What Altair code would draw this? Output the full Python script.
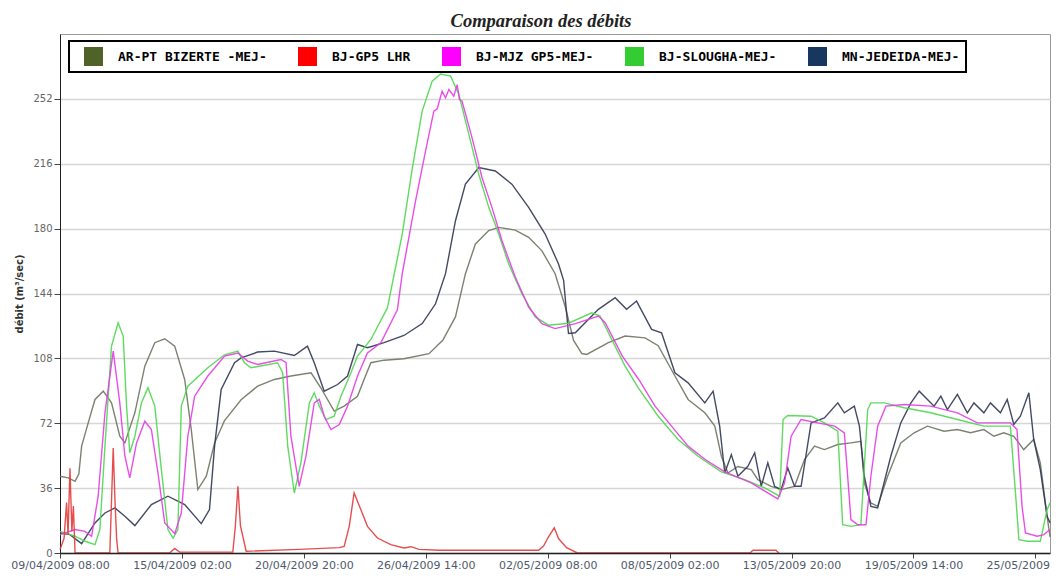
import altair as alt
import pandas as pd

START = "2009-04-09 08:00"
DOMAIN_END = "2009-05-26 00:30"

series_names = ["AR-PT BIZERTE -MEJ-", "BJ-GP5 LHR", "BJ-MJZ GP5-MEJ-",
                "BJ-SLOUGHA-MEJ-", "MN-JEDEIDA-MEJ-"]
legend_colors = ["#4F6228", "#FF0000", "#FF00FF", "#33CC33", "#17375E"]
line_colors = ["#6d7560", "#e23b3b", "#e43ce4", "#4fd64f", "#2f3652"]

# time in days since 09/04/2009 08:00, flow in m3/s
ar_days = [0.00, 0.39, 0.71, 0.89, 1.02, 1.33, 1.65, 2.04, 2.43, 2.82, 3.06, 3.53, 4.00, 4.47,
           4.94, 5.41, 5.88, 6.19, 6.50, 6.90, 7.29, 7.76, 8.54, 9.32, 10.11, 10.89, 11.84,
           12.30, 12.93, 13.40, 14.03, 14.34, 14.66, 15.28, 16.22, 17.40, 18.05, 18.65, 19.12,
           19.59, 20.22, 20.69, 21.47, 22.10, 22.72, 23.35, 23.83, 24.22, 24.61, 24.84, 25.86,
           26.65, 27.59, 28.21, 29.00, 29.62, 30.41, 30.88, 31.19, 31.50, 31.97, 32.60, 32.91,
           33.54, 34.01, 34.64, 35.11, 35.58, 36.05, 36.68, 37.30, 37.77, 37.93, 38.24, 38.56,
           39.03, 39.65, 40.28, 40.91, 41.69, 42.32, 42.94, 43.57, 44.04, 44.51, 44.98, 45.45,
           45.92, 46.23, 46.55, 46.69]
ar_flow = [42.6, 41.7, 39.8, 44, 59.3, 72.2, 85.2, 89.8, 83.3, 64.8, 61.1, 77.8, 103.7, 116.7,
           118.9, 114.8, 96.3, 68.5, 35.2, 42.6, 61.1, 73.5, 85, 92.6, 96.3, 98.2, 100,
           91.7, 78.7, 81.5, 87, 96.3, 105.6, 107, 107.8, 110.6, 118, 131, 155,
           171.5, 178.9, 180.7, 179.2, 175.2, 167.8, 155, 136.5, 118, 110.7, 110.2, 116.7,
           120.4, 119.4, 115, 98.2, 85.2, 77.8, 70.4, 53.7, 44.4, 48, 46.3, 40.7,
           37, 35.2, 37, 51.9, 59.3, 57.4, 60.2, 61.1, 62, 38.9, 27.8, 25.9,
           42.6, 61.1, 66.7, 70.4, 67.6, 68.5, 66.7, 68.5, 64.8, 66.7, 64.8, 57.4,
           63, 50, 20.4, 9]

lhr_days = [0.00, 0.19, 0.31, 0.38, 0.47, 0.56, 0.63, 0.71, 2.35, 2.51, 2.59, 2.67, 2.74,
            5.17, 5.41, 5.64, 8.15, 8.27, 8.39, 8.51, 8.78, 11.28, 13.17, 13.40, 13.64,
            13.87, 14.19, 14.50, 14.97, 15.60, 16.22, 16.55, 16.93, 17.87, 22.57, 22.81,
            23.04, 23.31, 23.51, 23.89, 24.40, 32.54, 32.68, 33.76, 33.90]
lhr_flow = [2, 8, 28, 10, 47, 12, 26, 0, 0, 58.3, 30, 8, 0,
            0, 2.5, 0.5, 0.5, 15, 37, 15, 1, 2, 3, 3.7, 14.8,
            33.3, 24, 14.8, 8.3, 4.6, 2.8, 3.5, 2, 1.5, 1.5, 4,
            9, 14, 8, 3, 0, 0, 1.5, 1.5, 0]

mjz_days = [0.00, 0.71, 1.18, 1.49, 1.80, 2.12, 2.51, 2.82, 3.06, 3.29, 3.61, 4.00, 4.31,
            4.62, 4.94, 5.41, 5.72, 6.03, 6.35, 6.97, 7.76, 8.39, 8.85, 9.32, 10.42, 10.66,
            10.89, 11.28, 11.60, 11.99, 12.23, 12.46, 12.78, 13.17, 13.56, 14.03, 14.50,
            15.13, 15.91, 16.14, 16.77, 17.24, 17.63, 17.79, 18.02, 18.18, 18.34, 18.57,
            18.73, 18.84, 18.96, 19.43, 19.90, 20.37, 20.84, 21.47, 22.10, 22.72, 23.35,
            24.30, 25.39, 25.71, 26.52, 27.31, 28.06, 28.84, 29.62, 30.41, 31.35, 32.60,
            33.85, 34.17, 34.48, 34.95, 35.74, 36.53, 36.99, 37.30, 37.62, 38.01, 38.24,
            38.56, 38.95, 39.81, 41.06, 42.32, 43.26, 44.82, 45.13, 45.37, 45.53, 46.08,
            46.40, 46.69]
mjz_flow = [10.2, 13, 12, 9.3, 31.5, 77.8, 112, 83.3, 53.7, 41.7, 61.1, 73.1, 68.5,
            44.4, 16.7, 10.7, 22.2, 64.8, 87, 98.2, 109.3, 111, 106.5, 104.6, 107.4, 105.6,
            64.8, 37, 53.7, 83.3, 85.2, 75.9, 68.5, 71.3, 81.5, 98.2, 111,
            116.7, 135, 155, 195.5, 223.1, 245.2, 246.5, 256.3, 252.6, 257.2, 253.5,
            259.9, 251.6, 250.7, 230.5, 208.4, 191.8, 173.4, 153.1, 136.5, 127.3, 124.5,
            127.3, 131.5, 127.8, 109.3, 96, 81.5, 70.4, 59.3, 52, 45, 38.9,
            30, 38.9, 64.8, 74.1, 72.2, 70.4, 66.7, 18.5, 15.7, 15.7, 42.6,
            70.4, 81.5, 82.4, 81.5, 77.8, 72.2, 72.2, 68.5, 25.9, 11.1, 9.3,
            10.2, 13]

slo_days = [0.00, 0.71, 1.18, 1.65, 1.88, 2.12, 2.43, 2.74, 2.98, 3.14, 3.29, 3.53, 3.84,
            4.15, 4.47, 4.78, 5.09, 5.33, 5.56, 5.72, 6.03, 6.97, 7.76, 8.39, 8.70, 9.01,
            10.26, 10.50, 10.74, 11.05, 11.36, 11.76, 11.99, 12.23, 12.54, 12.93, 13.25,
            13.72, 14.03, 14.66, 15.44, 16.14, 16.62, 17.08, 17.55, 17.95, 18.42, 18.81,
            19.28, 19.75, 20.22, 20.69, 21.16, 21.78, 22.41, 23.04, 23.98, 25.08, 25.47,
            26.02, 26.65, 27.28, 28.21, 29.15, 30.09, 31.19, 32.29, 33.23, 33.94, 34.10,
            34.32, 35.42, 36.05, 36.68, 36.91, 37.30, 37.77, 38.09, 38.24, 38.87, 39.81,
            41.06, 42.32, 43.57, 44.82, 45.06, 45.22, 45.61, 46.23, 46.55, 46.69]
slo_flow = [12, 9.3, 6.5, 4.6, 13, 59.3, 114.8, 127.8, 120.4, 81.5, 55.6, 64.8, 83.3,
            91.7, 81.5, 46.3, 13, 8.3, 13, 81.5, 92.6, 102.8, 110, 112, 105.6, 102.8,
            105.6, 100, 59.3, 33.3, 50, 83.3, 88.9, 81.5, 74, 75.9, 87,
            100, 109.3, 118.5, 136, 177, 213.9, 245.2, 261.8, 265.8, 264.6, 254.4,
            232.3, 210.2, 191.8, 177, 160.4, 143.9, 131, 126.4, 127.5, 133.3, 131.5,
            118.5, 103.7, 91.5, 75.9, 63, 53.7, 45, 40.7, 36.1, 31.5, 74.1,
            76.3, 75.9, 72.2, 67.6, 15.7, 14.8, 15.7, 79.6, 83.3, 83.3, 80.6,
            77.8, 74.1, 70.4, 70.4, 33.3, 7.4, 6.5, 6.5, 24, 27.8]

jed_days = [0.00, 0.47, 1.02, 1.65, 2.12, 2.59, 3.06, 3.53, 4.31, 5.09, 5.88, 6.66, 7.05,
            7.29, 7.60, 8.23, 8.54, 9.32, 10.11, 11.05, 11.67, 11.99, 12.46, 13.09, 13.56,
            14.03, 14.50, 15.28, 16.22, 17.08, 17.71, 18.18, 18.65, 19.12, 19.75, 20.53,
            21.31, 22.10, 22.88, 23.51, 23.75, 23.98, 24.30, 25.39, 26.18, 26.72, 27.19,
            27.90, 28.37, 29.00, 29.62, 30.41, 30.80, 31.11, 31.35, 31.66, 31.97, 32.44,
            32.76, 33.07, 33.38, 33.70, 34.01, 34.32, 34.64, 34.95, 35.42, 36.05, 36.68,
            36.99, 37.46, 37.70, 37.93, 38.24, 38.56, 39.18, 39.65, 40.13, 40.52, 40.91,
            41.22, 41.54, 41.85, 42.32, 42.79, 43.10, 43.57, 43.88, 44.35, 44.67, 44.98,
            45.29, 45.69, 45.92, 46.23, 46.55, 46.69]
jed_flow = [11.1, 10.2, 5.2, 16.7, 22.2, 25, 20.4, 15.2, 26.9, 31.5, 26.9, 16.3, 24.1,
            59.3, 90.7, 105.6, 108.3, 111.5, 112, 109.6, 114.8, 105.6, 89.8, 93.5, 98.2,
            115.7, 113.9, 116.7, 120.7, 127.3, 138.3, 155, 184.4, 204.7, 213.9, 212,
            204.7, 191.8, 177, 160.4, 151.3, 121.8, 122.2, 135.2, 141.7, 135.2, 139.8,
            124.1, 122.2, 100, 94.4, 83.3, 89.8, 70.4, 44.4, 54.6, 42.6, 48.1,
            55.6, 37, 50, 37, 35.2, 47.2, 37, 37, 72.2, 75, 83.3,
            77.8, 81.5, 70.4, 42.6, 25.9, 25, 53.7, 72.2, 83.3, 89.8, 85.2,
            81.5, 87, 79.6, 88, 77.8, 83.3, 77.8, 83.3, 77.8, 85.2, 71.3,
            75.9, 88.9, 63, 46.3, 20.4, 16.7]

tick_dates = ["2009-04-09 08:00", "2009-04-15 02:00", "2009-04-20 20:00", "2009-04-26 14:00",
              "2009-05-02 08:00", "2009-05-08 02:00", "2009-05-13 20:00", "2009-05-19 14:00",
              "2009-05-25 08:00"]
y_ticks = [0, 36, 72, 108, 144, 180, 216, 252]

# ---- build table ----
start = pd.Timestamp(START)
frames = []
for name, d, v in [(series_names[0], ar_days, ar_flow), (series_names[4], jed_days, jed_flow),
                   (series_names[3], slo_days, slo_flow), (series_names[2], mjz_days, mjz_flow),
                   (series_names[1], lhr_days, lhr_flow)]:
    t = start + pd.to_timedelta(pd.Series(d), unit="D")
    frames.append(pd.DataFrame({"time": t.dt.strftime("%Y-%m-%dT%H:%M:%S"),
                                "debit": v, "serie": name}))
df = pd.concat(frames, ignore_index=True)


def dt(s):
    p = pd.Timestamp(s)
    return alt.DateTime(year=p.year, month=p.month, date=p.day, hours=p.hour, minutes=p.minute)


x_enc = alt.X("time:T",
              scale=alt.Scale(domain=[dt(START), dt(DOMAIN_END)]),
              axis=alt.Axis(values=[dt(s) for s in tick_dates], format="%d/%m/%Y %H:%M",
                            title=None, grid=False, labelFlush=False, labelOverlap=False,
                            labelFont="DejaVu Sans", labelFontSize=11, labelColor="#4f5a6b",
                            tickSize=5, tickColor="#444", domainColor="#222",
                            domainWidth=1.6, labelPadding=1, zindex=1))
y_enc = alt.Y("debit:Q",
              scale=alt.Scale(domain=[0, 288], nice=False),
              axis=alt.Axis(values=y_ticks, title="débit (m³/sec)", grid=True,
                            gridColor="#d6d6d6", gridWidth=1.5,
                            labelFont="DejaVu Sans", labelFontSize=10, labelColor="#666",
                            titleFont="DejaVu Sans", titleFontSize=10, titleFontWeight="bold",
                            titleColor="#333", titlePadding=8, tickSize=6, tickColor="#444",
                            domainColor="#222", labelPadding=2))

lines = alt.Chart(df).mark_line(strokeWidth=1.4, opacity=0.9).encode(
    x=x_enc, y=y_enc,
    color=alt.Color("serie:N", scale=alt.Scale(domain=series_names, range=line_colors),
                    legend=None),
)

legend_df = pd.DataFrame({"serie": series_names})
keys = alt.Chart(legend_df).mark_square(opacity=0, filled=True).encode(
    color=alt.Color("serie:N", scale=alt.Scale(domain=series_names, range=legend_colors),
                    legend=alt.Legend(title=None, orient="none", legendX=9, legendY=7,
                                      direction="horizontal", symbolType="square",
                                      symbolSize=361, symbolOpacity=1, symbolStrokeWidth=0,
                                      symbolOffset=9, labelFont="DejaVu Sans Mono",
                                      labelFontWeight="bold", labelFontSize=13,
                                      labelColor="black", labelOffset=15, labelLimit=400,
                                      columnPadding=22, padding=6, strokeColor="black",
                                      fillColor="white")),
)

chart = alt.layer(lines, keys).resolve_scale(color="independent").properties(
    width=990, height=519,
    autosize=alt.AutoSizeParams(type="none"),
    padding={"left": 52, "top": 26, "right": 1, "bottom": 18},
    title=alt.TitleParams("Comparaison des débits", font="Liberation Serif",
                          fontStyle="italic", fontWeight="bold", fontSize=18.5,
                          color="#222", anchor="middle", frame="group", dx=-14, offset=4),
    background="white",
).configure_view(stroke="#9a9a9a", strokeWidth=1).configure_legend(strokeWidth=2)

chart.save("out.html", embed_options={"renderer": "svg", "actions": False})
